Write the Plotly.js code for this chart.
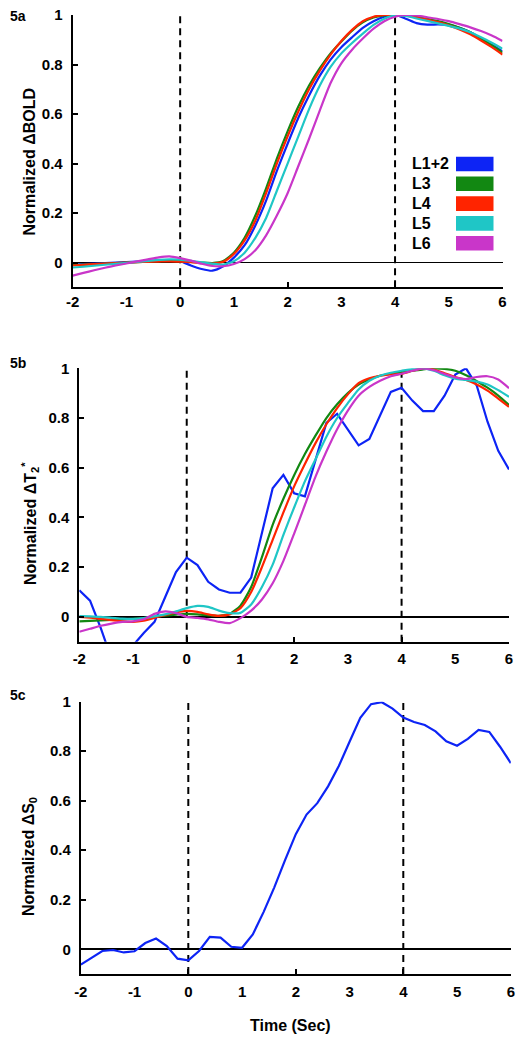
<!DOCTYPE html>
<html><head><meta charset="utf-8">
<script src="https://cdn.plot.ly/plotly-3.0.1.min.js"></script>
<style>html,body{margin:0;padding:0;background:#fff;} #chart{width:522px;height:1043px;}</style>
</head><body><div id="chart"></div>
<script>
// ---------- data ----------
const time = [-2.0,-1.8,-1.6,-1.4,-1.2,-1.0,-0.8,-0.6,-0.4,-0.2,0.0,0.2,0.4,0.6,0.8,1.0,1.2,1.4,1.6,1.8,2.0,2.2,2.4,2.6,2.8,3.0,3.2,3.4,3.6,3.8,4.0,4.2,4.4,4.6,4.8,5.0,5.2,5.4,5.6,5.8,6.0];

const seriesNames = ['L1+2','L3','L4','L5','L6'];
const seriesColors = ['#0d24f5','#128812','#ff2400','#1fc6c6','#c936c9'];

// 5a: Normalized ΔBOLD
const boldL12 = [-0.008,-0.006,-0.004,-0.002,0.0,0.002,0.004,0.006,0.008,0.009,0.006,-0.012,-0.026,-0.033,-0.015,0.02,0.07,0.15,0.25,0.37,0.48,0.585,0.675,0.755,0.82,0.87,0.91,0.948,0.975,0.993,1.0,0.985,0.967,0.961,0.962,0.96,0.948,0.93,0.905,0.88,0.853];
const boldL3  = [-0.01,-0.008,-0.006,-0.004,-0.002,0.0,0.002,0.004,0.006,0.007,0.006,0.003,0.0,-0.002,0.006,0.04,0.10,0.19,0.30,0.42,0.53,0.63,0.715,0.785,0.845,0.893,0.937,0.97,0.99,0.998,1.0,0.998,0.993,0.985,0.975,0.963,0.948,0.93,0.905,0.878,0.848];
const boldL4  = [-0.012,-0.009,-0.006,-0.004,-0.002,0.0,0.002,0.003,0.004,0.005,0.004,0.002,-0.002,-0.004,0.003,0.035,0.09,0.17,0.28,0.40,0.51,0.61,0.70,0.775,0.84,0.895,0.94,0.975,0.993,1.0,1.0,0.997,0.99,0.982,0.971,0.958,0.942,0.922,0.897,0.87,0.84];
const boldL5  = [-0.02,-0.017,-0.013,-0.009,-0.005,-0.001,0.003,0.007,0.011,0.013,0.012,0.007,0.001,-0.005,-0.008,0.005,0.04,0.10,0.18,0.29,0.40,0.51,0.62,0.715,0.79,0.845,0.887,0.925,0.96,0.985,0.998,0.996,0.986,0.976,0.966,0.956,0.945,0.93,0.91,0.888,0.864];
const boldL6  = [-0.053,-0.042,-0.031,-0.021,-0.012,-0.004,0.005,0.013,0.021,0.025,0.018,0.008,-0.005,-0.014,-0.015,-0.006,0.014,0.05,0.11,0.19,0.28,0.39,0.50,0.615,0.725,0.805,0.86,0.905,0.945,0.975,0.993,1.0,0.998,0.991,0.984,0.975,0.963,0.95,0.935,0.917,0.895];

// 5b: Normalized ΔT2*
const t2L12 = [0.107,0.065,-0.045,-0.17,-0.2,-0.115,-0.065,-0.02,0.08,0.18,0.238,0.208,0.141,0.11,0.097,0.097,0.158,0.337,0.517,0.571,0.497,0.485,0.635,0.78,0.817,0.755,0.69,0.716,0.81,0.905,0.922,0.87,0.828,0.828,0.89,0.975,1.0,0.93,0.785,0.668,0.593];
const t2L3  = [-0.018,-0.016,-0.014,-0.012,-0.01,-0.008,-0.005,0.0,0.005,0.009,0.012,0.01,0.006,0.004,0.012,0.045,0.12,0.24,0.37,0.475,0.57,0.655,0.73,0.80,0.855,0.9,0.935,0.955,0.97,0.978,0.984,0.99,0.996,1.0,0.998,0.99,0.972,0.948,0.922,0.89,0.852];
const t2L4  = [0.0,-0.003,-0.008,-0.013,-0.018,-0.02,-0.015,-0.004,0.008,0.018,0.024,0.02,0.01,0.004,0.01,0.035,0.1,0.2,0.31,0.42,0.525,0.615,0.70,0.775,0.84,0.895,0.94,0.96,0.97,0.975,0.978,0.99,1.0,0.995,0.98,0.965,0.953,0.935,0.91,0.878,0.845];
const t2L5  = [0.003,0.002,0.0,-0.004,-0.007,-0.008,-0.005,0.002,0.01,0.022,0.035,0.044,0.04,0.025,0.015,0.016,0.05,0.12,0.21,0.33,0.44,0.545,0.635,0.725,0.80,0.86,0.915,0.95,0.97,0.982,0.99,0.997,1.0,0.99,0.972,0.958,0.953,0.947,0.935,0.912,0.885];
const t2L6  = [-0.06,-0.048,-0.036,-0.027,-0.02,-0.018,-0.01,0.012,0.022,0.015,0.0,-0.004,-0.01,-0.02,-0.025,-0.005,0.025,0.07,0.135,0.225,0.335,0.45,0.565,0.665,0.755,0.83,0.89,0.925,0.95,0.968,0.978,0.99,1.0,0.992,0.977,0.963,0.957,0.965,0.968,0.955,0.92];

// 5c: Normalized ΔS0
const s0L12 = [-0.062,-0.035,-0.007,-0.003,-0.013,-0.008,0.025,0.043,0.013,-0.038,-0.045,-0.007,0.05,0.047,0.01,0.006,0.06,0.15,0.25,0.36,0.465,0.544,0.59,0.658,0.74,0.838,0.935,0.99,0.998,0.972,0.936,0.918,0.906,0.88,0.84,0.822,0.85,0.886,0.878,0.818,0.752];

const xTickLabels = [-2,-1,0,1,2,3,4,5,6];
const xTickMarks = [-2,0,2,4,6];
const yTickValues = [0,0.2,0.4,0.6,0.8,1];
const yTickLabels = ['0','0.2','0.4','0.6','0.8','1'];
const eventTimes = [0,4];
const panelLabels = ['5a','5b','5c'];
const yTitles = ['Normalized \u0394BOLD','Normalized \u0394T<sub>2</sub><sup>*</sup>','Normalized \u0394S<sub>0</sub>'];
const xTitle = 'Time (Sec)';

// ---------- layout ----------
const W = 522, H = 1043;
const FONT = 'Liberation Sans, Arial, Helvetica, sans-serif';
const px = v => v / W;
const py = v => 1 - v / H;

const panels = [
  {xl:72.7, xr:502.5, yt:15,    yb:287.3, titleX:28.5, titleY:162, labelY:16,  dashTop:1.0,  standoff:0,
   series:[boldL12,boldL3,boldL4,boldL5,boldL6], smooth:[true,true,true,true,true]},
  {xl:79.3, xr:509.0, yt:368.3, yb:641.7, titleX:30,   titleY:524, labelY:363, dashTop:1.027, standoff:2,
   series:[t2L12,t2L3,t2L4,t2L5,t2L6], smooth:[false,true,true,true,true]},
  {xl:80.8, xr:510.8, yt:701.7, yb:974,   titleX:29,   titleY:857, labelY:695, dashTop:1.0,  standoff:3,
   series:[s0L12], smooth:[false]}
];

const tickFont = {family:FONT, size:15, color:'#000', weight:'bold'};
const data = [];
const layout = {
  width:W, height:H, margin:{l:0,r:0,t:0,b:0}, autosize:false,
  paper_bgcolor:'#fff', plot_bgcolor:'#fff', showlegend:false,
  shapes:[], annotations:[]
};

panels.forEach((p, i) => {
  const xs = i === 0 ? '' : String(i + 1);
  const ovl = String(i + 4);
  const xid = 'x' + xs, yid = 'y' + xs;

  const xCommon = {
    anchor:yid, range:[-2,6], side:'bottom',
    showline:true, linecolor:'#000', linewidth:2,
    ticks:'inside', ticklen:5, tickwidth:2,
    tickmode:'array', showgrid:false, zeroline:false, tickfont:tickFont,
    automargin:false, fixedrange:true, ticklabelstandoff:p.standoff
  };
  layout['xaxis' + xs] = Object.assign({}, xCommon, {
    domain:[px(p.xl), px(p.xr)], tickcolor:'#000',
    tickvals:xTickMarks, ticktext:xTickMarks.map(String)
  });
  const odd = xTickLabels.filter(v => xTickMarks.indexOf(v) < 0);
  layout['xaxis' + ovl] = Object.assign({}, xCommon, {
    overlaying:xid, tickcolor:'rgba(0,0,0,0)',
    tickvals:odd, ticktext:odd.map(String)
  });
  layout['yaxis' + xs] = {
    domain:[py(p.yb), py(p.yt)], anchor:xid, range:[-0.1,1],
    showline:true, linecolor:'#000', linewidth:2,
    ticks:'inside', ticklen:5, tickwidth:2, tickcolor:'#000',
    tickmode:'array', tickvals:yTickValues, ticktext:yTickLabels,
    showgrid:false, zeroline:true, zerolinecolor:'#000', zerolinewidth:1.6,
    tickfont:tickFont, automargin:false, fixedrange:true, ticklabelstandoff:5
  };
  data.push({x:[], y:[], xaxis:'x' + ovl, yaxis:yid, type:'scatter', mode:'lines',
             hoverinfo:'skip', showlegend:false});

  eventTimes.forEach(t => {
    layout.shapes.push({type:'line', xref:xid, yref:yid, x0:t, x1:t, y0:-0.1, y1:p.dashTop,
      layer:'between', line:{color:'#000', width:2, dash:'7px,5px'}});
  });

  p.series.forEach((vals, k) => {
    data.push({x:time, y:vals, xaxis:xid, yaxis:yid, type:'scatter', mode:'lines',
      name:seriesNames[k], hoverinfo:'skip', showlegend:false,
      line:{color:seriesColors[k], width:2.2, shape:p.smooth[k] ? 'spline' : 'linear', smoothing:0.6}});
  });

  layout.annotations.push({xref:'paper', yref:'paper', x:px(8), y:py(p.labelY),
    xanchor:'left', yanchor:'middle', showarrow:false, text:panelLabels[i],
    font:{family:FONT, size:14, color:'#000', weight:'bold'}});
  layout.annotations.push({xref:'paper', yref:'paper', x:px(p.titleX), y:py(p.titleY),
    xanchor:'center', yanchor:'middle', showarrow:false, textangle:-90, text:yTitles[i],
    font:{family:FONT, size:16, color:'#000', weight:'bold'}});
});

// x title
layout.annotations.push({xref:'paper', yref:'paper', x:px(290), y:py(1025),
  xanchor:'center', yanchor:'middle', showarrow:false, text:xTitle,
  font:{family:FONT, size:16, color:'#000', weight:'bold'}});

// legend (panel 5a): label text then colour swatch to its right
seriesNames.forEach((name, k) => {
  const cy = 164 + 19.8 * k;
  layout.annotations.push({xref:'paper', yref:'paper', x:px(410), y:py(cy),
    xanchor:'left', yanchor:'middle', showarrow:false, text:name,
    font:{family:FONT, size:16, color:'#000', weight:'bold'}});
  layout.shapes.push({type:'rect', xref:'paper', yref:'paper',
    x0:px(456), x1:px(493.5), y0:py(cy + 7.3), y1:py(cy - 7.3),
    fillcolor:seriesColors[k], line:{width:0}, layer:'above'});
});

Plotly.newPlot('chart', data, layout, {staticPlot:true, displayModeBar:false});
</script>
</body></html>
